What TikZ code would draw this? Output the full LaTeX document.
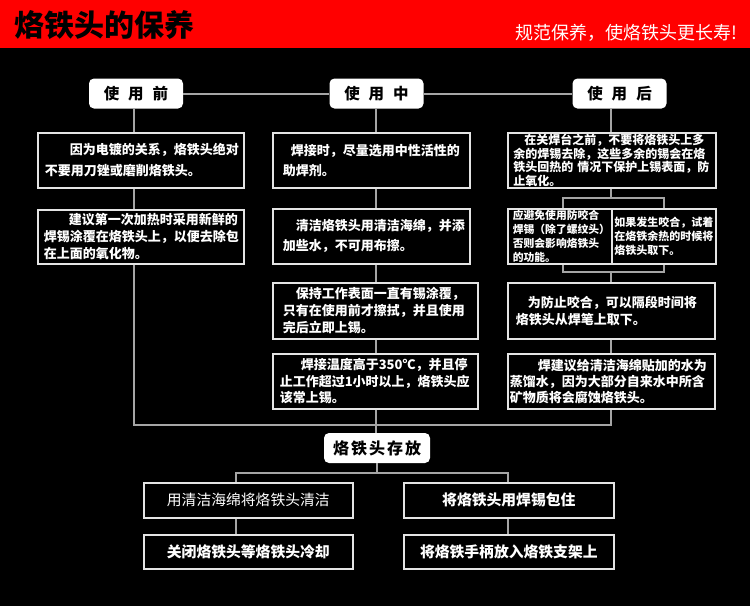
\documentclass[tikz,border=0pt]{standalone}
\usepackage{fontspec}
\newfontfamily\cjk{Noto Sans CJK SC}
\definecolor{hdred}{RGB}{255,0,0}
\definecolor{boxc}{RGB}{228,228,228}
\definecolor{linec}{RGB}{165,165,165}
\begin{document}
\begin{tikzpicture}[x=1pt,y=-1pt,
 tb/.style={draw=boxc, line width=1.6pt, fill=black, text=white, align=left, anchor=north west, inner ysep=0pt},
 sb/.style={draw=boxc, line width=1.6pt, fill=black, text=white, anchor=north west, inner sep=0pt, minimum width=209pt},
 head/.style={fill=white, rounded corners=5pt, text=black, inner sep=0pt, minimum width=94pt, minimum height=30pt, font=\cjk\bfseries\fontsize{15.5}{15.5}\selectfont},
 conn/.style={draw=linec, line width=2pt}]
\useasboundingbox (0,0) rectangle (750,606);
\fill[black] (0,0) rectangle (750,606);
\fill[hdred] (0,0) rectangle (750,47.5);
\node[anchor=west, inner sep=0pt, font=\cjk\bfseries\fontsize{30}{30}\selectfont, text=black] (title) at (14,25) {烙铁头的保养};
\node[anchor=east, inner sep=0pt, font=\cjk\fontsize{18}{18}\selectfont, text=white] (sub) at (738,33) {规范保养，使烙铁头更长寿!};
% headings
\node[head] (H1) at (136,93.5) {使\hspace{9pt}用\hspace{9pt}前};
\node[head] (H2) at (376.5,93.5) {使\hspace{9pt}用\hspace{9pt}中};
\node[head] (H3) at (619.5,93.5) {使\hspace{9pt}用\hspace{9pt}后};
% left column
\node[tb, text width=192pt, inner xsep=7pt, minimum height=55pt, font=\cjk\bfseries\fontsize{13}{21}\selectfont] (L1) at (37,132)
 {\hspace*{25pt}因为电镀的关系，烙铁头绝对\\不要用刀锉或磨削烙铁头。};
\node[tb, text width=194pt, inner xsep=6pt, minimum height=54pt, font=\cjk\bfseries\fontsize{13}{17}\selectfont] (L2) at (37,209)
 {\hspace*{25pt}建议第一次加热时采用新鲜的\\焊锡涂覆在烙铁头上，以便去除包\\在上面的氧化物。};
% middle column
\node[tb, text width=177pt, inner xsep=10pt, minimum height=55pt, font=\cjk\bfseries\fontsize{13}{20}\selectfont] (M1) at (272,132)
 {\hspace*{8pt}焊接时，尽量选用中性活性的\\助焊剂。};
\node[tb, text width=177pt, inner xsep=10pt, minimum height=55pt, font=\cjk\bfseries\fontsize{13}{20}\selectfont] (M2) at (272,208)
 {\hspace*{13pt}清洁烙铁头用清洁海绵，并添\\加些水，不可用布擦。};
\node[tb, text width=185pt, inner xsep=10pt, minimum height=56pt, font=\cjk\bfseries\fontsize{13}{17}\selectfont] (M3) at (272,282)
 {\hspace*{13pt}保持工作表面一直有锡涂覆，\\只有在使用前才擦拭，并且使用\\完后立即上锡。};
\node[tb, text width=191pt, inner xsep=7pt, minimum height=55pt, font=\cjk\bfseries\fontsize{13}{16.5}\selectfont] (M4) at (272,353)
 {\hspace*{21pt}焊接温度高于350℃，并且停\\止工作超过1小时以上，烙铁头应\\该常上锡。};
% right column
\node[tb, text width=197pt, inner xsep=5.5pt, minimum height=55pt, font=\cjk\bfseries\fontsize{12}{13.6}\selectfont] (R1) at (507,132)
 {\hspace*{11pt}在关焊台之前，不要将烙铁头上多\\余的焊锡去除，这些多余的锡会在烙\\铁头回热的~情况下保护上锡表面，防\\止氧化。};
\node[tb, text width=94pt, inner xsep=5pt, minimum height=55pt, font=\cjk\bfseries\fontsize{10.8}{13.7}\selectfont] (R2a) at (507,208)
 {应避免使用防咬合\\焊锡（除了螺纹头）\\否则会影响烙铁头\\的功能。};
\node[tb, text width=99pt, inner xsep=2.5pt, minimum height=55pt, font=\cjk\bfseries\fontsize{11}{13.7}\selectfont] (R2b) at (611,208)
 {如果发生咬合，试着\\在烙铁余热的时候将\\烙铁头取下。};
\node[tb, text width=191pt, inner xsep=8pt, minimum height=56pt, font=\cjk\bfseries\fontsize{13}{17}\selectfont] (R3) at (507,282)
 {\hspace*{12pt}为防止咬合，可以隔段时间将\\烙铁头从焊笔上取下。};
\node[tb, text width=203pt, inner xsep=2pt, minimum height=55pt, font=\cjk\bfseries\fontsize{13}{16}\selectfont] (R4) at (507,353)
 {\hspace*{28pt}焊建议给清洁海绵贴加的水为\\蒸馏水，因为大部分自来水中所含\\矿物质将会腐蚀烙铁头。};
% storage
\node[head, minimum width=106pt, font=\cjk\bfseries\fontsize{16}{16}\selectfont] (S) at (377,448)
 {烙\hspace{2pt}铁\hspace{2pt}头\hspace{2pt}存\hspace{2pt}放};
\node[sb, minimum height=35pt, font=\cjk\fontsize{14.8}{14.8}\selectfont] (S1) at (143,482) {用清洁海绵将烙铁头清洁};
\node[sb, minimum width=210pt, minimum height=35pt, font=\cjk\bfseries\fontsize{14.8}{14.8}\selectfont] (S2) at (403,482) {将烙铁头用焊锡包住};
\node[sb, minimum height=34pt, font=\cjk\bfseries\fontsize{14.8}{14.8}\selectfont] (S3) at (143,534) {关闭烙铁头等烙铁头冷却};
\node[sb, minimum width=210pt, minimum height=34pt, font=\cjk\bfseries\fontsize{14.8}{14.8}\selectfont] (S4) at (403,534) {将烙铁手柄放入烙铁支架上};
% guide coordinates
\coordinate (cL) at (134,0);
\coordinate (cM) at (376,0);
\coordinate (cR) at (611,0);
\coordinate (fa) at (563,0);
\coordinate (fb) at (664,0);
\coordinate (sL) at (236,0);
\coordinate (sR) at (508,0);
\coordinate (bot) at (0,425);
\coordinate (fk1) at (0,198);
\coordinate (fk2) at (0,272);
\coordinate (sh) at (0,473);
% connectors
\draw[conn] (H1.east) -- (H2.west) (H2.east) -- (H3.west);
\draw[conn] (cL |- H1.south) -- (cL |- L1.north) (cL |- L1.south) -- (cL |- L2.north);
\draw[conn] (cL |- L2.south) -- (cL |- bot) -- (cR |- bot) -- (cR |- R4.south);
\draw[conn] (cM |- H2.south) -- (cM |- M1.north) (cM |- M1.south) -- (cM |- M2.north)
 (cM |- M2.south) -- (cM |- M3.north) (cM |- M3.south) -- (cM |- M4.north)
 (cM |- M4.south) -- (cM |- S.north);
\draw[conn] (cR |- H3.south) -- (cR |- R1.north) (cR |- R1.south) -- (cR |- fk1);
\draw[conn] (fa |- R2a.north) -- (fa |- fk1) -- (fb |- fk1) -- (fb |- R2b.north);
\draw[conn] (fa |- R2a.south) -- (fa |- fk2) -- (fb |- fk2) -- (fb |- R2b.south);
\draw[conn] (cR |- fk2) -- (cR |- R3.north) (cR |- R3.south) -- (cR |- R4.north);
\draw[conn] (S.south) -- (S.south |- sh);
\draw[conn] (sL |- S1.north) -- (sL |- sh) -- (sR |- sh) -- (sR |- S2.north);
\draw[conn] (sL |- S1.south) -- (sL |- S3.north) (sR |- S2.south) -- (sR |- S4.north);
\end{tikzpicture}
\end{document}
